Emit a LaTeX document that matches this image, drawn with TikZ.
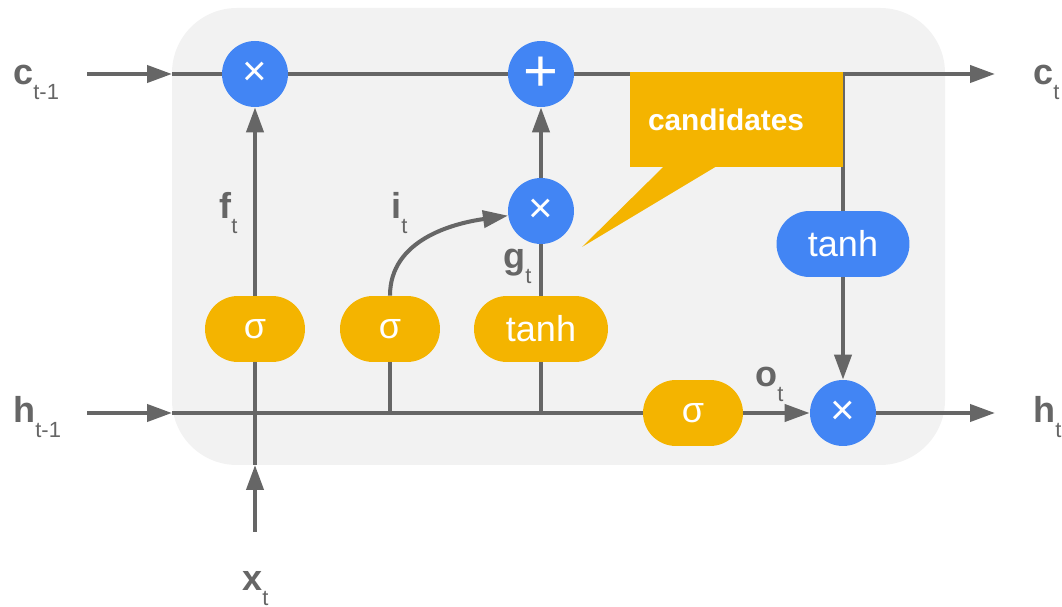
\documentclass[tikz,border=0pt]{standalone}
\usepackage{fontspec}
\setmainfont{Liberation Sans}
\usepackage{xcolor}
\usepackage{tikz}
\usetikzlibrary{arrows.meta, positioning}
\definecolor{gblue}{HTML}{4285F4}
\definecolor{gyellow}{HTML}{F4B400}
\definecolor{linegray}{HTML}{666666}
\definecolor{cellbg}{HTML}{F2F2F2}

% bold vector name with a light subscript
\newcommand{\vlab}[2]{{\fontsize{20.5}{21}\selectfont\bfseries #1}\raisebox{-8pt}{\fontsize{12.5}{13}\selectfont #2}}

\begin{document}
\begin{tikzpicture}[x=0.02cm, y=-0.02cm,
  wire/.style={draw=linegray, line width=2.3pt},
  arr/.style={wire, -{Triangle[length=5mm, width=3.4mm]}},
  op/.style={circle, fill=gblue, text=white, minimum size=1.32cm, inner sep=0pt, font=\fontsize{24}{24}\selectfont},
  gate/.style={rectangle, rounded corners=0.66cm, minimum height=1.32cm, minimum width=2cm, inner sep=0pt, text=white, font=\fontsize{20.5}{21}\selectfont},
  ygate/.style={gate, fill=gyellow},
  bgate/.style={gate, fill=gblue, minimum width=2.66cm},
  lbl/.style={text=linegray, inner sep=0pt, anchor=base west},
  callout/.style={fill=gyellow, text=white, minimum height=1.9cm, text width=3.54cm, inner xsep=0.36cm, align=left, font=\fontsize{17}{18}\selectfont\bfseries}]

  \useasboundingbox (0,0) rectangle (1062,607);
  \fill[cellbg, rounded corners=1.3cm] (172,8) rectangle (945,465);

  % pointwise ops
  \node[op] (mulf) at (255,74) {×};
  \node[op, font=\fontsize{34}{34}\selectfont] (add) at (541,74) {+};
  \node[op] (muli) at (541,211) {×};
  \node[op] (mulo) at (843,413) {×};

  % gates
  \node[ygate] (sigf) at (255,329) {σ};
  \node[ygate] (sigi) at (390,329) {σ};
  \node[ygate, minimum width=2.68cm] (tanhg) at (541,329) {tanh};
  \node[ygate] (sigo) at (693,413) {σ};
  \node[bgate] (tanhc) at (843,244) {tanh};

  % ends and junctions
  \coordinate (cin) at (87,74);
  \coordinate (cl) at (172,74);
  \coordinate (cj) at (843,74);
  \coordinate (cout) at (995,74);
  \coordinate (hin) at (87,413);
  \coordinate (hl) at (172,413);
  \coordinate (hout) at (995,413);
  \coordinate (xs) at (255,532);
  \coordinate (xl) at (255,465);
  \coordinate (ji) at (390,413);
  \coordinate (jg) at (541,413);

  % cell state
  \draw[arr] (cin) -- (cl);
  \draw[wire] (cl) -- (mulf) -- (add);
  \draw[arr] (add) -- (cout);
  \draw[wire] (cj) -- (tanhc);
  \draw[arr] (tanhc) -- (mulo);

  % hidden state and input
  \draw[arr] (hin) -- (hl);
  \draw[wire] (hl) -- (sigo);
  \draw[arr] (sigo) -- (mulo);
  \draw[arr] (mulo) -- (hout);
  \draw[arr] (xs) -- (xl);
  \draw[wire] (xl) -- (sigf);
  \draw[wire] (sigi) -- (ji);
  \draw[wire] (tanhg) -- (jg);

  % gate outputs
  \draw[arr] (sigf) -- (mulf);
  \draw[arr] (sigi) to[out=90, in=188] (muli);
  \draw[wire] (tanhg) -- (muli);
  \draw[arr] (muli) -- (add);

  % callout
  \node[callout] (cand) at (736.5,119.5) {candidates};
  \coordinate (tip) at (582,247);
  \fill[gyellow] ([xshift=0.7cm, yshift=1pt]cand.south west) -- (tip) -- ([xshift=1.76cm, yshift=1pt]cand.south west) -- cycle;

  % labels
  \node[lbl] (clast) at (13,85) {\vlab{c}{t-1}};
  \node[lbl] (cnext) at (1033,85) {\vlab{c}{t}};
  \node[lbl] (hlast) at (13,423) {\vlab{h}{t-1}};
  \node[lbl] (hnext) at (1033,423) {\vlab{h}{t}};
  \node[lbl] (xlab) at (242,591) {\vlab{x}{t}};
  \node[lbl] (flab) at (219,219) {\vlab{f}{t}};
  \node[lbl] (ilab) at (391,219) {\vlab{i}{t}};
  \node[lbl] (glab) at (503,269) {\vlab{g}{t}};
  \node[lbl] (olab) at (755,387) {\vlab{o}{t}};
\end{tikzpicture}
\end{document}
